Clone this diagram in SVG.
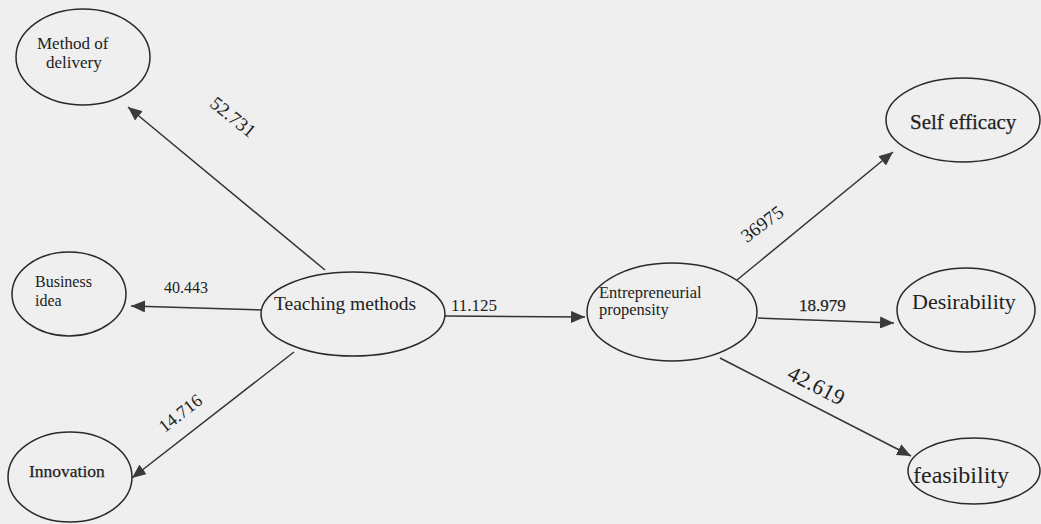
<svg xmlns="http://www.w3.org/2000/svg" width="1041" height="524" viewBox="0 0 1041 524">
  <defs>
    <marker id="arrow" markerUnits="userSpaceOnUse" markerWidth="16" markerHeight="12" refX="14" refY="6" orient="auto">
      <path d="M0,0 L14,6 L0,12 Z" fill="#3a3a3a"/>
    </marker>
    <filter id="paper" x="0" y="0" width="100%" height="100%">
      <feTurbulence type="fractalNoise" baseFrequency="0.9" numOctaves="2" seed="3" result="n"/>
      <feColorMatrix type="matrix" values="0 0 0 0 0.55  0 0 0 0 0.55  0 0 0 0 0.55  0 0 0 0.14 0" in="n" result="g"/>
      <feComposite in="g" in2="SourceGraphic" operator="over"/>
    </filter>
    <style>
      .node ellipse { fill: none; stroke: #2a2a2a; stroke-width: 1.5; }
      .node text, .label { font-family: "Liberation Serif", "Times New Roman", serif; fill: #222; }
      .heavy { stroke: #222; stroke-width: 0.25; }
      .edge { stroke: #333; stroke-width: 1.5; fill: none; marker-end: url(#arrow); }
    </style>
  </defs>

  <!-- paper background -->
  <rect x="0" y="0" width="1041" height="524" fill="#f2f2f2" filter="url(#paper)"/>

  <!-- connectors -->
  <g id="connectors">
    <line class="edge" x1="325" y1="270" x2="128" y2="107"/>
    <line class="edge" x1="262" y1="310" x2="131" y2="306"/>
    <line class="edge" x1="294" y1="352" x2="132" y2="478"/>
    <line class="edge" x1="445" y1="316" x2="585" y2="317"/>
    <line class="edge" x1="737" y1="280" x2="893" y2="152"/>
    <line class="edge" x1="758" y1="318" x2="894" y2="323"/>
    <line class="edge" x1="720" y1="358" x2="911" y2="456"/>

    <text class="label" font-size="19" text-anchor="middle" transform="translate(229,122) rotate(39)">52.731</text>
    <text class="label" font-size="16" x="164" y="293">40.443</text>
    <text class="label" font-size="18" text-anchor="middle" transform="translate(184,418) rotate(-38)">14.716</text>
    <text class="label" font-size="17" x="451" y="311">11.125</text>
    <text class="label" font-size="19" text-anchor="middle" transform="translate(766,229) rotate(-37)">36975</text>
    <text class="label heavy" font-size="17" x="799" y="311">18.979</text>
    <text class="label" font-size="22" text-anchor="middle" transform="translate(813,392) rotate(27)">42.619</text>
  </g>

  <g id="method-of-delivery" class="node">
    <ellipse cx="83" cy="57" rx="67" ry="48"/>
    <text font-size="17" x="37" y="49">Method of</text>
    <text font-size="17" x="46" y="68">delivery</text>
  </g>

  <g id="business-idea" class="node">
    <ellipse cx="69" cy="294" rx="57" ry="42"/>
    <text font-size="16" x="35" y="287">Business</text>
    <text font-size="16" x="35" y="306">idea</text>
  </g>

  <g id="innovation" class="node">
    <ellipse cx="70" cy="477" rx="62" ry="45"/>
    <text class="heavy" font-size="17.5" x="29" y="477">Innovation</text>
  </g>

  <g id="teaching-methods" class="node">
    <ellipse cx="353" cy="314" rx="92" ry="42"/>
    <text font-size="19.5" x="274" y="310">Teaching methods</text>
  </g>

  <g id="entrepreneurial-propensity" class="node">
    <ellipse cx="672" cy="312" rx="85" ry="49"/>
    <text font-size="16.5" x="599" y="298">Entrepreneurial</text>
    <text font-size="16.5" x="599" y="315">propensity</text>
  </g>

  <g id="self-efficacy" class="node">
    <ellipse cx="963" cy="120" rx="77" ry="42"/>
    <text class="heavy" font-size="21" x="910" y="129">Self efficacy</text>
  </g>

  <g id="desirability" class="node">
    <ellipse cx="966" cy="310" rx="69" ry="42"/>
    <text font-size="22" x="912" y="309">Desirability</text>
  </g>

  <g id="feasibility" class="node">
    <ellipse cx="974" cy="471" rx="66" ry="33"/>
    <text font-size="24" x="913" y="483">feasibility</text>
  </g>
</svg>
